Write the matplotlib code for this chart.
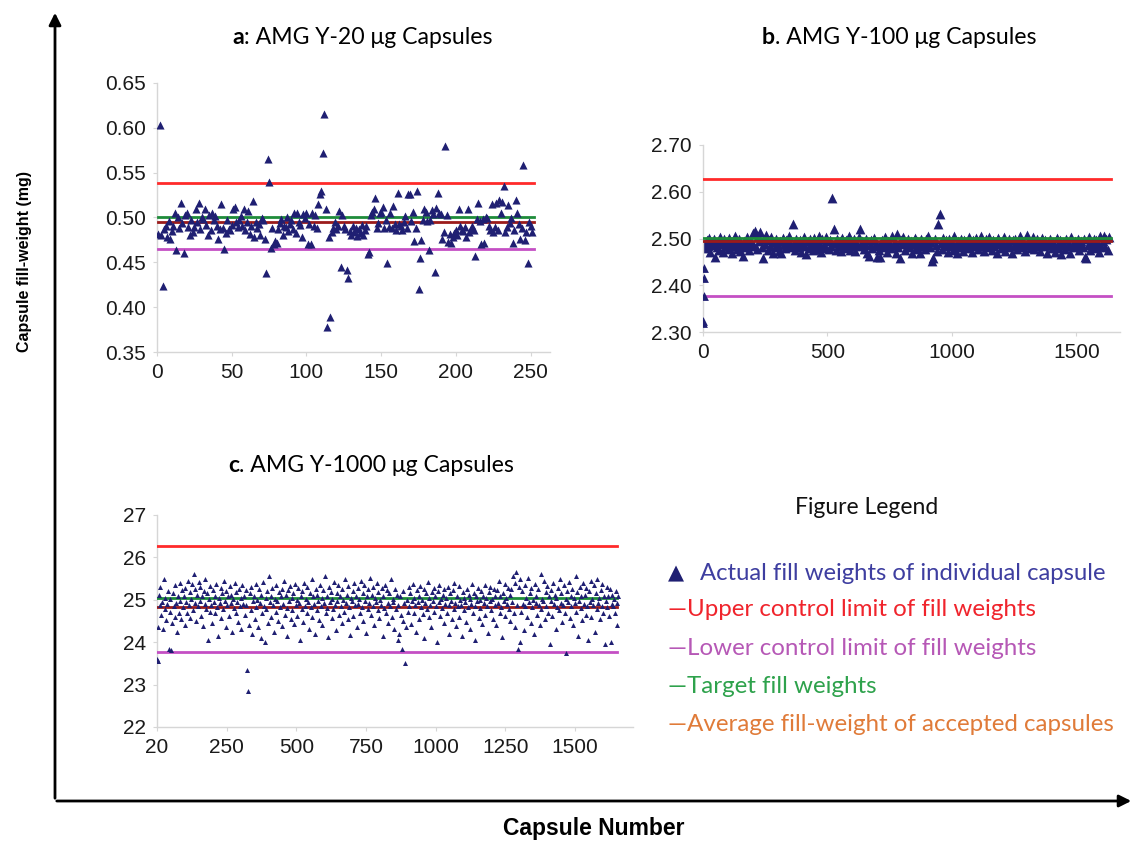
import numpy as np
import matplotlib
matplotlib.use("Agg")
import matplotlib.pyplot as plt
from matplotlib.patches import FancyArrowPatch

# --- panel a: AMG Y-20 ug, capsules 1..251 ---
a_y = [
    0.482, 0.603, 0.480, 0.424, 0.487, 0.491, 0.478, 0.496, 0.476, 0.485,
    0.490, 0.505, 0.464, 0.500, 0.488, 0.516, 0.494, 0.460, 0.503, 0.505,
    0.489, 0.480, 0.497, 0.484, 0.489, 0.510, 0.495, 0.516, 0.487, 0.500,
    0.498, 0.509, 0.492, 0.480, 0.503, 0.486, 0.505, 0.497, 0.502, 0.491,
    0.476, 0.487, 0.515, 0.488, 0.465, 0.483, 0.497, 0.487, 0.486, 0.492,
    0.510, 0.512, 0.495, 0.489, 0.497, 0.502, 0.490, 0.509, 0.486, 0.495,
    0.507, 0.482, 0.491, 0.518, 0.478, 0.495, 0.488, 0.493, 0.480, 0.499,
    0.497, 0.476, 0.438, 0.565, 0.540, 0.466, 0.488, 0.470, 0.474, 0.472,
    0.487, 0.494, 0.498, 0.480, 0.491, 0.489, 0.501, 0.485, 0.493, 0.497,
    0.487, 0.505, 0.483, 0.505, 0.495, 0.492, 0.478, 0.504, 0.499, 0.505,
    0.471, 0.493, 0.470, 0.505, 0.491, 0.503, 0.488, 0.515, 0.526, 0.530,
    0.572, 0.615, 0.509, 0.378, 0.478, 0.389, 0.484, 0.488, 0.495, 0.487,
    0.490, 0.507, 0.445, 0.503, 0.490, 0.487, 0.442, 0.432, 0.485, 0.481,
    0.490, 0.484, 0.488, 0.479, 0.487, 0.483, 0.492, 0.480, 0.486, 0.491,
    0.459, 0.461, 0.503, 0.506, 0.509, 0.522, 0.488, 0.494, 0.505, 0.506,
    0.512, 0.488, 0.497, 0.449, 0.489, 0.505, 0.488, 0.513, 0.493, 0.486,
    0.527, 0.493, 0.490, 0.486, 0.495, 0.502, 0.488, 0.526, 0.526, 0.496,
    0.506, 0.474, 0.488, 0.529, 0.420, 0.455, 0.475, 0.497, 0.509, 0.506,
    0.496, 0.464, 0.497, 0.508, 0.504, 0.439, 0.511, 0.527, 0.505, 0.504,
    0.476, 0.484, 0.580, 0.503, 0.473, 0.482, 0.472, 0.478, 0.483, 0.486,
    0.480, 0.510, 0.490, 0.486, 0.485, 0.489, 0.478, 0.509, 0.484, 0.487,
    0.491, 0.486, 0.457, 0.498, 0.516, 0.496, 0.471, 0.498, 0.472, 0.501,
    0.499, 0.490, 0.486, 0.515, 0.484, 0.489, 0.516, 0.486, 0.520, 0.505,
    0.517, 0.535, 0.484, 0.489, 0.514, 0.494, 0.499, 0.472, 0.486, 0.520,
    0.505, 0.493, 0.476, 0.488, 0.558, 0.475, 0.484, 0.449, 0.495, 0.491,
    0.484,
]
a_limits = {"ucl": 0.538, "target": 0.501, "avg": 0.495, "lcl": 0.465}

# --- panel b: AMG Y-100 ug, first capsules then every 5th capsule ---
b_first_x = [1, 2, 3, 4, 6]
b_first_y = [2.320, 2.323, 2.376, 2.416, 2.436]
b_step = 5
b_y = [
    2.488, 2.479, 2.497, 2.484, 2.502, 2.471, 2.493, 2.486, 2.499, 2.460,
    2.482, 2.495, 2.476, 2.504, 2.489, 2.472, 2.498, 2.485, 2.492, 2.478,
    2.501, 2.487, 2.469, 2.494, 2.483, 2.506, 2.477, 2.490, 2.498, 2.474,
    2.486, 2.463, 2.495, 2.481, 2.503, 2.488, 2.475, 2.497, 2.491, 2.512,
    2.484, 2.516, 2.478, 2.505, 2.494, 2.514, 2.482, 2.458, 2.499, 2.488,
    2.508, 2.476, 2.496, 2.485, 2.503, 2.470, 2.492, 2.481, 2.499, 2.487,
    2.474, 2.495, 2.468, 2.502, 2.489, 2.479, 2.497, 2.484, 2.505, 2.491,
    2.482, 2.530, 2.487, 2.476, 2.500, 2.493, 2.481, 2.497, 2.472, 2.489,
    2.503, 2.485, 2.466, 2.494, 2.480, 2.498, 2.488, 2.475, 2.501, 2.483,
    2.492, 2.477, 2.506, 2.486, 2.471, 2.499, 2.489, 2.480, 2.503, 2.494,
    2.478, 2.497, 2.485, 2.587, 2.520, 2.490, 2.476, 2.500, 2.484, 2.495,
    2.473, 2.502, 2.488, 2.480, 2.496, 2.487, 2.505, 2.476, 2.492, 2.483,
    2.499, 2.474, 2.490, 2.486, 2.504, 2.520, 2.483, 2.495, 2.477, 2.489,
    2.500, 2.468, 2.462, 2.487, 2.496, 2.479, 2.502, 2.484, 2.491, 2.460,
    2.476, 2.461, 2.488, 2.497, 2.481, 2.503, 2.486, 2.472, 2.495, 2.489,
    2.479, 2.506, 2.487, 2.493, 2.470, 2.509, 2.482, 2.459, 2.497, 2.488,
    2.504, 2.476, 2.493, 2.485, 2.499, 2.481, 2.495, 2.468, 2.489, 2.502,
    2.477, 2.494, 2.486, 2.469, 2.500, 2.483, 2.491, 2.478, 2.498, 2.487,
    2.506, 2.481, 2.493, 2.452, 2.458, 2.498, 2.486, 2.474, 2.530, 2.553,
    2.490, 2.477, 2.502, 2.484, 2.496, 2.488, 2.471, 2.499, 2.483, 2.493,
    2.476, 2.505, 2.487, 2.468, 2.495, 2.482, 2.500, 2.489, 2.474, 2.497,
    2.485, 2.492, 2.479, 2.503, 2.488, 2.472, 2.496, 2.483, 2.501, 2.490,
    2.478, 2.494, 2.506, 2.485, 2.491, 2.473, 2.499, 2.487, 2.482, 2.504,
    2.489, 2.476, 2.497, 2.484, 2.493, 2.470, 2.501, 2.488, 2.479, 2.495,
    2.486, 2.503, 2.474, 2.490, 2.482, 2.498, 2.487, 2.469, 2.496, 2.484,
    2.500, 2.478, 2.492, 2.485, 2.505, 2.481, 2.494, 2.489, 2.473, 2.508,
    2.486, 2.497, 2.480, 2.493, 2.503, 2.477, 2.489, 2.498, 2.484, 2.491,
    2.474, 2.502, 2.488, 2.483, 2.496, 2.470, 2.490, 2.486, 2.499, 2.479,
    2.493, 2.485, 2.472, 2.501, 2.489, 2.480, 2.497, 2.466, 2.492, 2.487,
    2.478, 2.499, 2.484, 2.491, 2.470, 2.503, 2.488, 2.481, 2.495, 2.486,
    2.500, 2.476, 2.489, 2.494, 2.482, 2.498, 2.461, 2.459, 2.487, 2.503,
    2.475, 2.492, 2.485, 2.500, 2.479, 2.496, 2.488, 2.471, 2.505, 2.483,
    2.494, 2.506, 2.481, 2.498, 2.476, 2.503,
]
b_limits = {"ucl": 2.627, "target": 2.501, "avg": 2.494, "lcl": 2.378}

# --- panel c: AMG Y-1000 ug, first capsules then every 3rd capsule ---
c_first_x = [1, 2]
c_first_y = [23.60, 23.55]
c_step = 3
c_y = [
    24.35, 25.12, 24.88, 25.31, 24.65, 24.95, 24.30, 25.48, 24.78, 25.05, 24.52, 24.90, 25.20, 23.85, 24.72,
    25.02, 23.82, 24.45, 25.15, 24.85, 24.60, 25.35, 24.92, 24.25, 25.08, 24.70, 25.40, 24.98, 24.55, 25.22,
    24.82, 25.10, 24.40, 25.28, 24.95, 24.68, 25.45, 24.88, 25.18, 24.58, 25.03, 25.38, 24.75, 25.60, 24.92,
    25.25, 24.50, 25.12, 24.85, 25.42, 24.98, 25.30, 24.62, 25.08, 24.38, 25.20, 24.90, 25.50, 24.78, 25.15,
    24.05, 25.02, 24.72, 25.33, 24.88, 24.45, 25.22, 24.95, 25.10, 24.68, 25.37, 24.82, 24.15, 25.05, 24.92,
    25.28, 24.58, 25.15, 24.78, 25.45, 24.98, 24.35, 25.20, 24.87, 25.08, 24.62, 25.32, 24.93, 25.12, 24.25,
    25.02, 24.80, 25.40, 24.70, 25.18, 24.95, 24.48, 25.25, 24.85, 25.05, 24.30, 25.35, 24.90, 25.10, 24.65,
    25.22, 24.88, 23.35, 22.85, 24.40, 25.15, 24.75, 25.30, 24.20, 24.98, 25.08, 24.55, 25.38, 24.82, 25.00,
    24.35, 25.25, 24.92, 24.10, 25.12, 24.68, 25.42, 24.85, 24.00, 25.05, 24.78, 25.20, 24.45, 25.55, 24.95,
    25.10, 24.60, 25.28, 24.88, 24.25, 25.02, 24.72, 25.35, 24.96, 24.50, 25.18, 24.83, 25.08, 24.38, 25.25,
    24.90, 25.45, 24.65, 25.12, 24.80, 24.15, 25.22, 24.98, 25.32, 24.55, 25.05, 24.75, 25.15, 24.42, 25.38,
    24.88, 25.00, 24.62, 25.27, 24.93, 24.05, 25.10, 24.78, 25.20, 24.48, 25.40, 24.85, 25.03, 24.70, 25.30,
    24.95, 24.32, 25.15, 24.82, 25.48, 24.60, 25.08, 24.90, 24.20, 25.25, 24.75, 25.12, 24.97, 24.52, 25.35,
    24.86, 25.05, 24.40, 25.22, 24.92, 25.55, 24.68, 25.10, 24.80, 24.12, 25.30, 24.95, 25.18, 24.58, 25.02,
    24.78, 25.42, 24.88, 24.28, 25.15, 24.98, 25.36, 24.65, 25.08, 24.85, 25.25, 24.45, 25.00, 24.72, 25.50,
    24.92, 25.12, 24.55, 25.32, 24.83, 24.18, 25.05, 24.96, 25.20, 24.62, 25.40, 24.87, 25.10, 24.35, 25.28,
    24.90, 25.02, 24.70, 25.45, 24.82, 25.15, 24.50, 25.35, 24.97, 24.22, 25.08, 24.78, 25.25, 24.93, 25.52,
    24.65, 25.12, 24.86, 25.30, 24.40, 25.05, 24.95, 25.40, 24.75, 25.18, 24.58, 25.00, 24.88, 25.28, 24.15,
    25.10, 24.80, 25.35, 24.68, 25.22, 24.92, 24.45, 25.15, 24.85, 25.48, 24.60, 25.03, 24.95, 24.30, 25.25,
    24.78, 25.12, 24.88, 24.05, 24.20, 25.08, 24.65, 23.85, 24.50, 25.20, 24.92, 23.52, 24.35, 25.00, 24.72,
    25.30, 24.85, 25.15, 24.42, 24.98, 25.38, 24.70, 25.05, 24.88, 24.25, 25.22, 24.95, 25.10, 24.55, 25.32,
    24.82, 25.00, 24.66, 25.25, 24.10, 24.93, 25.15, 24.78, 25.42, 24.60, 25.05, 24.88, 24.35, 25.18, 24.97,
    25.28, 24.72, 25.08, 24.85, 24.00, 25.20, 24.95, 25.35, 24.62, 25.02, 24.80, 25.12, 24.45, 25.25, 24.90,
    25.05, 24.68, 25.30, 24.87, 24.20, 25.15, 24.96, 24.55, 25.22, 24.78, 25.40, 24.92, 24.38, 25.10, 24.85,
    25.32, 24.60, 25.00, 24.88, 24.15, 25.18, 24.75, 25.05, 24.94, 24.48, 25.25, 24.83, 25.12, 24.30, 25.02,
    24.90, 25.38, 24.70, 25.15, 24.86, 24.05, 25.08, 24.96, 25.28, 24.58, 25.00, 24.80, 25.20, 24.42, 25.10,
    24.92, 25.35, 24.65, 25.05, 24.85, 24.22, 25.18, 24.97, 25.30, 24.75, 25.02, 24.55, 25.25, 24.88, 25.10,
    24.40, 25.22, 24.93, 25.45, 24.70, 25.08, 24.82, 24.12, 25.15, 24.98, 25.38, 24.62, 25.05, 24.90, 25.28,
    24.78, 25.12, 24.50, 25.25, 24.95, 25.55, 24.68, 25.40, 24.35, 25.65, 24.88, 23.83, 25.30, 24.00, 25.48,
    24.72, 25.20, 24.90, 24.28, 25.35, 24.85, 25.05, 24.60, 25.52, 24.95, 25.15, 24.45, 25.28, 24.82, 25.00,
    24.20, 25.38, 24.92, 25.10, 24.65, 25.25, 24.87, 24.40, 25.60, 24.78, 25.02, 24.96, 25.45, 24.55, 25.18,
    24.85, 25.32, 24.70, 25.08, 23.95, 24.98, 25.22, 24.62, 25.40, 24.90, 25.12, 24.30, 25.05, 24.82, 25.28,
    24.75, 25.50, 24.93, 25.15, 24.48, 24.88, 25.35, 24.68, 25.02, 23.75, 25.20, 24.95, 25.42, 24.58, 25.10,
    24.86, 25.25, 24.40, 25.05, 24.92, 25.55, 24.72, 25.18, 24.15, 24.98, 25.30, 24.80, 25.08, 24.52, 25.40,
    24.90, 25.12, 24.65, 25.28, 24.85, 24.05, 25.20, 24.95, 25.45, 24.60, 25.02, 24.88, 25.35, 24.25, 25.15,
    24.78, 25.48, 24.92, 25.05, 24.55, 25.22, 24.86, 25.38, 24.70, 25.10, 23.95, 24.98, 25.30, 24.82, 25.08,
    24.62, 25.25, 24.00, 24.90, 25.12, 24.85, 25.02, 24.70, 25.20, 24.93, 24.40, 25.10,
]
c_limits = {"ucl": 26.28, "target": 25.05, "avg": 24.83, "lcl": 23.78}

a_ticks = [0.35, 0.40, 0.45, 0.50, 0.55, 0.60, 0.65]
b_ticks = [2.30, 2.40, 2.50, 2.60, 2.70]
c_ticks = [22, 23, 24, 25, 26, 27]
c_xticks = [0, 250, 500, 750, 1000, 1250, 1500]
c_xticklabels = ["20", "250", "500", "750", "1000", "1250", "1500"]

legend_items = [
    "\u2014Upper control limit of fill weights",
    "\u2014Lower control limit of fill weights",
    "\u2014Target fill weights",
    "\u2014Average fill-weight of accepted capsules",
]

W, H = 1135, 841
NAVY = "#1f1f72"
line_colors = {"ucl": "#ff2a2a", "lcl": "#c44fc4", "target": "#1e8c3a", "avg": "#9b1b1b"}
text_colors = ["#f0242c", "#b658b6", "#2ea24c", "#e07b39"]
TXT = ["Lato", "DejaVu Sans"]
NUM = ["Liberation Sans", "DejaVu Sans"]
BOLD = ["Liberation Sans", "DejaVu Sans"]


def box(l, t, r, b):
    return [l / W, 1 - b / H, (r - l) / W, (b - t) / H]


def fp(x, y):
    return x / W, 1 - y / H


fig = plt.figure(figsize=(W / 100, H / 100), dpi=100)


def style(ax, xlim, ylim, yticks, yfmt):
    ax.set_xlim(*xlim)
    ax.set_ylim(*ylim)
    ax.set_yticks(yticks)
    ax.set_yticklabels([yfmt.format(v) for v in yticks])
    for s in ["top", "right"]:
        ax.spines[s].set_visible(False)
    for s in ["left", "bottom"]:
        ax.spines[s].set_color("#d6d6d6")
        ax.spines[s].set_linewidth(1.0)
    ax.tick_params(length=3, color="#d6d6d6", labelsize=15, pad=5, labelcolor="#1a1a1a")
    for lab in ax.get_xticklabels() + ax.get_yticklabels():
        lab.set_family(NUM)


def limits(ax, lims, x0, x1):
    for key in ["ucl", "lcl", "target", "avg"]:
        ax.plot([x0, x1], [lims[key], lims[key]], color=line_colors[key], lw=2.0, zorder=3)


# panel a
ax_a = fig.add_axes(box(157, 83, 550, 352))
a_x = np.arange(1, len(a_y) + 1)
ax_a.scatter(a_x, a_y, marker="^", s=34, color=NAVY, linewidths=0, zorder=4)
limits(ax_a, a_limits, 1, 252)
ax_a.set_xticks([0, 50, 100, 150, 200, 250])
style(ax_a, (0, 263), (0.35, 0.65), a_ticks, "{:.2f}")

# panel b
ax_b = fig.add_axes(box(703, 145, 1120, 332))
b_x = np.arange(1, len(b_y) + 1) * b_step
ax_b.scatter(b_x, b_y, marker="^", s=50, color=NAVY, linewidths=0, zorder=2)
ax_b.scatter(b_first_x, b_first_y, marker="^", s=40, color=NAVY, linewidths=0, zorder=4)
limits(ax_b, b_limits, 1, 1640)
ax_b.set_xticks([0, 500, 1000, 1500])
style(ax_b, (0, 1675), (2.30, 2.70), b_ticks, "{:.2f}")

# panel c
ax_c = fig.add_axes(box(157, 515, 633, 727))
c_x = np.arange(1, len(c_y) + 1) * c_step
ax_c.scatter(c_x, c_y, marker="^", s=13, color=NAVY, linewidths=0, zorder=4)
ax_c.scatter(c_first_x, c_first_y, marker="^", s=13, color=NAVY, linewidths=0, zorder=4)
limits(ax_c, c_limits, 0, 1650)
ax_c.set_xticks(c_xticks)
ax_c.set_xticklabels(c_xticklabels)
style(ax_c, (0, 1709), (22, 27), c_ticks, "{:d}")

# panel titles
titles = [(232, 37, "a", ": AMG Y-20 \u03bcg Capsules"),
          (762, 37, "b", ". AMG Y-100 \u03bcg Capsules"),
          (228, 465, "c", ". AMG Y-1000 \u03bcg Capsules")]
for x, y, letter, rest in titles:
    t = fig.text(*fp(x, y), letter, fontsize=16.6, fontweight="bold", family=TXT, va="center")
    fig.canvas.draw()
    bb = t.get_window_extent()
    fig.text(bb.x1 / W, 1 - y / H, rest, fontsize=16.6, family=TXT, va="center")

# figure legend
fig.text(*fp(867, 508), "Figure Legend", fontsize=16.5, family=TXT, ha="center", va="center", color="#111111")
fig.text(*fp(668, 573), "\u25b2", fontsize=15, family=["DejaVu Sans"], va="center", color=NAVY)
fig.text(*fp(700, 573), "Actual fill weights of individual capsule", fontsize=17.2, family=TXT,
         va="center", color="#3e3ea0")
for i, (label, col) in enumerate(zip(legend_items, text_colors)):
    fig.text(*fp(668, 610 + 38.3 * i), label, fontsize=17.4, family=TXT, va="center", color=col)

# big outer axes arrows
fig.add_artist(FancyArrowPatch(fp(55, 801), fp(55, 10), transform=fig.transFigure,
                               arrowstyle="-|>", mutation_scale=18, lw=2, color="black"))
fig.add_artist(FancyArrowPatch(fp(54, 801), fp(1134, 801), transform=fig.transFigure,
                               arrowstyle="-|>", mutation_scale=18, lw=2, color="black"))
fig.text(*fp(25, 262), "Capsule fill-weight (mg)", rotation=90, fontsize=11.5, fontweight="bold",
         family=BOLD, ha="center", va="center")
fig.text(*fp(594, 828), "Capsule Number", fontsize=16.5, fontweight="bold",
         family=BOLD, ha="center", va="center")

fig.savefig("out.png", dpi=100)
